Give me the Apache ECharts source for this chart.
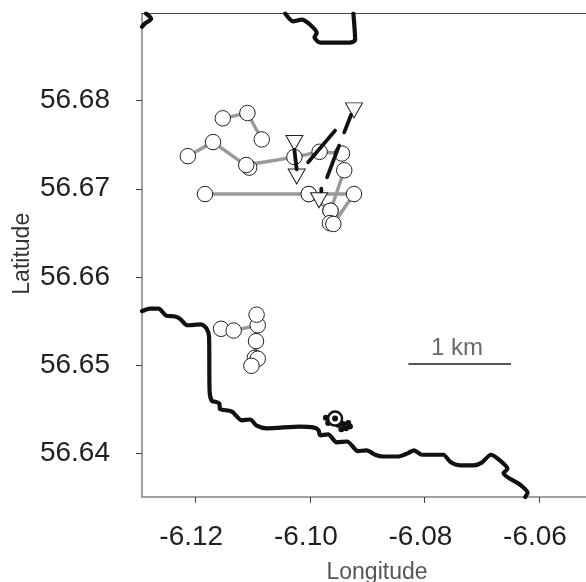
<!DOCTYPE html>
<html><head><meta charset="utf-8">
<style>html,body{margin:0;padding:0;background:#fff}#c{width:586px;height:582px}</style>
<script src="https://cdn.jsdelivr.net/npm/echarts@6/dist/echarts.min.js"></script></head>
<body><div id="c"></div>
<script>
const lonTicks=[-6.12,-6.10,-6.08,-6.06];
const latTicks=[56.64,56.65,56.66,56.67,56.68];
const coastMain=[[-6.1293,56.6561],[-6.1279,56.6564],[-6.1264,56.6564],[-6.1251,56.6556],[-6.1235,56.6555],[-6.1226,56.6552],[-6.1214,56.6545],[-6.1190,56.6546],[-6.1181,56.6542],[-6.1176,56.6532],[-6.1175,56.6470],[-6.1171,56.6459],[-6.1164,56.6458],[-6.1158,56.6456],[-6.1157,56.6450],[-6.1136,56.6447],[-6.1119,56.6437],[-6.1104,56.6438],[-6.1093,56.6431],[-6.1075,56.6428],[-6.1017,56.6430],[-6.0994,56.6429],[-6.0985,56.6426],[-6.0982,56.6420],[-6.0968,56.6421],[-6.0953,56.6412],[-6.0935,56.6413],[-6.0916,56.6402],[-6.0901,56.6403],[-6.0886,56.6398],[-6.0872,56.6396],[-6.0845,56.6396],[-6.0828,56.6400],[-6.0818,56.6403],[-6.0805,56.6398],[-6.0767,56.6398],[-6.0755,56.6390],[-6.0738,56.6386],[-6.0714,56.6386],[-6.0700,56.6389],[-6.0684,56.6398],[-6.0671,56.6393],[-6.0655,56.6382],[-6.0662,56.6377],[-6.0633,56.6364],[-6.0620,56.6355],[-6.0624,56.6350]];
const coastCorner=[[-6.1286,56.6899],[-6.1277,56.6893],[-6.1287,56.6888],[-6.1293,56.6884]];
const coastBay=[[-6.1043,56.6899],[-6.1029,56.6890],[-6.1014,56.6892],[-6.0999,56.6886],[-6.0988,56.6877],[-6.0992,56.6872],[-6.0982,56.6866],[-6.0930,56.6866],[-6.0921,56.6869],[-6.0924,56.6899]];
const trackA=[[-6.1152,56.6780],[-6.1109,56.6786],[-6.1084,56.6756]];
const trackB=[[-6.1213,56.6737],[-6.1169,56.6753],[-6.1106,56.6724],[-6.1111,56.6727],[-6.1027,56.6736],[-6.0983,56.6742],[-6.0944,56.6740]];
const trackC=[[-6.0940,56.6721],[-6.0964,56.6675],[-6.0965,56.6661],[-6.0959,56.6660],[-6.0923,56.6694],[-6.1002,56.6694],[-6.1183,56.6694]];
const trackD=[[-6.1002,56.6694],[-6.0964,56.6675]];
const trackE=[[-6.1155,56.6541],[-6.1133,56.6539],[-6.1091,56.6545],[-6.1093,56.6557],[-6.1094,56.6527],[-6.1096,56.6508],[-6.1091,56.6507],[-6.1102,56.6499]];
const triangles=[[-6.1027,56.6752],[-6.1023,56.6714],[-6.0984,56.6687],[-6.0923,56.6789]];
const dashes=[[-6.1027,56.6744],[-6.1023,56.6722],['-','-'],[-6.1003,56.6730],[-6.0956,56.6766],['-','-'],[-6.0970,56.6713],[-6.0949,56.6749],['-','-'],[-6.0940,56.6764],[-6.0928,56.6784],['-','-'],[-6.0980,56.6700],[-6.0980,56.6697]];
const clusterDots=[[-6.0972,56.6440],[-6.0968,56.6434],[-6.0951,56.6432],[-6.0942,56.6433],[-6.0933,56.6434],[-6.0937,56.6428],[-6.0945,56.6427],[-6.0930,56.6430]];
const clusterCentre=[[-6.0956,56.6439]];
const scaleBar=[[-6.0828,56.6501],[-6.0649,56.6501]];
const scaleLabelPoint=[[-6.0743,56.6501]];
const scaleLabel='1 km';

const xMin=-6.1293,xMax=-6.0518,yMin=56.635,yMax=56.6899;
const fontFamily='"Liberation Sans",Arial,sans-serif';
const ink='#231f20';
const axisGrey='#808080';
function coast(d){return {type:'line',data:d,symbol:'none',smooth:0.25,z:3,lineStyle:{color:'#111',width:4.2,cap:'round',join:'round'}};}
function track(d,z){return {type:'line',data:d,symbol:'circle',symbolSize:15.5,showAllSymbol:true,z:z,
 lineStyle:{color:'#999',width:3.4},itemStyle:{color:'#fff',borderColor:ink,borderWidth:1,opacity:1}};}
const chart=echarts.init(document.getElementById('c'),null,{renderer:'canvas'});
chart.setOption({animation:false,
 grid:{left:142,top:13.5,right:0,bottom:85,outerBoundsMode:'none',containLabel:false},
 xAxis:[{type:'value',min:xMin,max:xMax,position:'bottom',
   name:'Longitude',nameLocation:'middle',nameGap:64,nameMoveOverlap:false,nameTextStyle:{fontFamily,fontSize:23,color:'#555',padding:[0,0,0,26]},
   splitLine:{show:false},
   axisLine:{show:true,onZero:false,lineStyle:{color:axisGrey,width:1.5}},
   axisTick:{show:true,length:6,customValues:lonTicks,lineStyle:{color:'#444',width:1}},
   axisLabel:{fontFamily,fontSize:28,color:ink,margin:26,padding:[0,8,0,0],customValues:lonTicks,formatter:v=>v.toFixed(2)}},
  {type:'value',min:xMin,max:xMax,position:'top',splitLine:{show:false},
   axisLine:{show:true,onZero:false,lineStyle:{color:'#444',width:1}},axisTick:{show:false},axisLabel:{show:false}}],
 yAxis:{type:'value',min:yMin,max:yMax,
   name:'Latitude',nameLocation:'middle',nameGap:108,nameMoveOverlap:false,nameTextStyle:{fontFamily,fontSize:23,color:'#333',padding:[0,0,0,3]},
   splitLine:{show:false},
   axisLine:{show:true,onZero:false,lineStyle:{color:axisGrey,width:1.5}},
   axisTick:{show:true,length:6,customValues:latTicks,lineStyle:{color:'#444',width:1}},
   axisLabel:{fontFamily,fontSize:28,color:ink,margin:32,customValues:latTicks,formatter:v=>v.toFixed(2)}},
 series:[
  coast(coastMain),coast(coastCorner),coast(coastBay),
  track(trackD,4),track(trackA,5),track(trackB,5),track(trackC,5),track(trackE,5),
  {type:'scatter',data:triangles,symbol:'triangle',symbolRotate:180,symbolSize:[17,15],z:6,
   itemStyle:{color:'#fff',borderColor:ink,borderWidth:1,opacity:1}},
  {type:'line',data:dashes,symbol:'none',connectNulls:false,z:7,lineStyle:{color:'#111',width:3.8,cap:'round'}},
  {type:'scatter',data:clusterDots,symbol:'circle',symbolSize:6,z:7,itemStyle:{color:'#111',opacity:1}},
  {type:'scatter',data:clusterCentre,symbol:'circle',symbolSize:14,z:8,itemStyle:{color:'#fff',borderColor:'#111',borderWidth:2.5,opacity:1}},
  {type:'scatter',data:clusterCentre,symbol:'circle',symbolSize:6,z:9,itemStyle:{color:'#111',opacity:1}},
  {type:'line',data:scaleBar,symbol:'none',z:4,lineStyle:{color:'#555',width:1.8}},
  {type:'scatter',data:scaleLabelPoint,symbol:'circle',symbolSize:1,z:4,itemStyle:{color:'transparent'},
   label:{show:true,position:'top',distance:3,formatter:scaleLabel,fontFamily,fontSize:24,color:'#444'}}
 ]});
</script></body></html>
